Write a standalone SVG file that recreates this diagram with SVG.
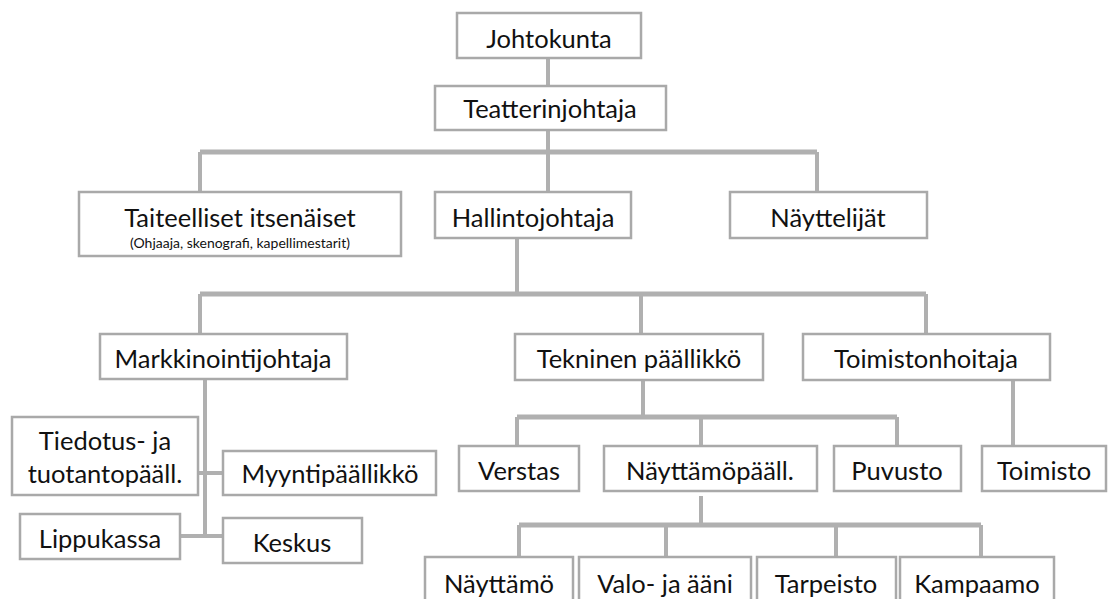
<svg xmlns="http://www.w3.org/2000/svg" width="1108" height="599" viewBox="0 0 1108 599">
<style>
.box{fill:#fff;stroke:#a9a9a9;stroke-width:2.5}
.t{font-family:Lato,"Liberation Sans",sans-serif;font-size:25.5px;fill:#111;text-anchor:middle}
.s{font-family:Lato,"Liberation Sans",sans-serif;font-size:14px;fill:#111;text-anchor:middle}
.bar{stroke:#b0b0b0;stroke-width:5;fill:none}
.ln{stroke:#b0b0b0;stroke-width:4;fill:none}
</style>
<rect width="1108" height="599" fill="#fff"/>
<g id="connectors">
<path class="ln" d="M548 58V192"/>
<path class="bar" d="M200 152H817"/>
<path class="ln" d="M200 152V192M817 152V192"/>
<path class="ln" d="M517 238V294"/>
<path class="bar" d="M200 294H926"/>
<path class="ln" d="M200 294V334M641 294V333M926 294V333"/>
<path class="ln" d="M205 379V537M198 473H223M180 536H223"/>
<path class="ln" d="M643 380V417"/>
<path class="bar" d="M517 417H897"/>
<path class="ln" d="M517 417V446M701 417V446M897 417V446"/>
<path class="ln" d="M1013 380V446"/>
<path class="ln" d="M701 496V525"/>
<path class="bar" d="M519 525H981"/>
<path class="ln" d="M519 525V557M666 525V557M836 525V557M981 525V557"/>
</g>
<g id="johtokunta"><rect class="box" x="457" y="13" width="184" height="45"/><text class="t" x="549" y="48">Johtokunta</text></g>
<g id="teatterinjohtaja"><rect class="box" x="435" y="86" width="231" height="44"/><text class="t" x="550" y="118">Teatterinjohtaja</text></g>
<g id="taiteelliset"><rect class="box" x="79" y="192" width="322" height="64"/><text class="t" x="240" y="227">Taiteelliset itsenäiset</text><text class="s" x="240" y="248">(Ohjaaja, skenografi, kapellimestarit)</text></g>
<g id="hallintojohtaja"><rect class="box" x="435" y="192" width="196" height="46"/><text class="t" x="533" y="227">Hallintojohtaja</text></g>
<g id="nayttelijat"><rect class="box" x="730" y="192" width="197" height="46"/><text class="t" x="828" y="227">Näyttelijät</text></g>
<g id="markkinointijohtaja"><rect class="box" x="100" y="334" width="247" height="45"/><text class="t" x="223" y="368">Markkinointijohtaja</text></g>
<g id="tekninen"><rect class="box" x="515" y="334" width="248" height="46"/><text class="t" x="639" y="368">Tekninen päällikkö</text></g>
<g id="toimistonhoitaja"><rect class="box" x="803" y="334" width="247" height="46"/><text class="t" x="926" y="368">Toimistonhoitaja</text></g>
<g id="tiedotus"><rect class="box" x="12" y="417" width="186" height="78"/><text class="t" x="105" y="450">Tiedotus- ja</text><text class="t" x="105" y="483">tuotantopääll.</text></g>
<g id="myyntipaallikko"><rect class="box" x="223" y="451" width="213" height="44"/><text class="t" x="330" y="483">Myyntipäällikkö</text></g>
<g id="lippukassa"><rect class="box" x="20" y="514" width="160" height="45"/><text class="t" x="100" y="548">Lippukassa</text></g>
<g id="keskus"><rect class="box" x="223" y="518" width="139" height="45"/><text class="t" x="292" y="552">Keskus</text></g>
<g id="verstas"><rect class="box" x="459" y="446" width="120" height="45"/><text class="t" x="519" y="480">Verstas</text></g>
<g id="nayttamopaall"><rect class="box" x="604" y="446" width="213" height="45"/><text class="t" x="710" y="480">Näyttämöpääll.</text></g>
<g id="puvusto"><rect class="box" x="834" y="446" width="127" height="45"/><text class="t" x="897" y="480">Puvusto</text></g>
<g id="toimisto"><rect class="box" x="982" y="446" width="124" height="45"/><text class="t" x="1044" y="480">Toimisto</text></g>
<g id="nayttamo"><rect class="box" x="425" y="557" width="148" height="50"/><text class="t" x="499" y="593">Näyttämö</text></g>
<g id="valo"><rect class="box" x="579" y="557" width="172" height="50"/><text class="t" x="665" y="593">Valo- ja ääni</text></g>
<g id="tarpeisto"><rect class="box" x="757" y="557" width="139" height="50"/><text class="t" x="826" y="593">Tarpeisto</text></g>
<g id="kampaamo"><rect class="box" x="900" y="557" width="154" height="50"/><text class="t" x="977" y="593">Kampaamo</text></g>
</svg>
